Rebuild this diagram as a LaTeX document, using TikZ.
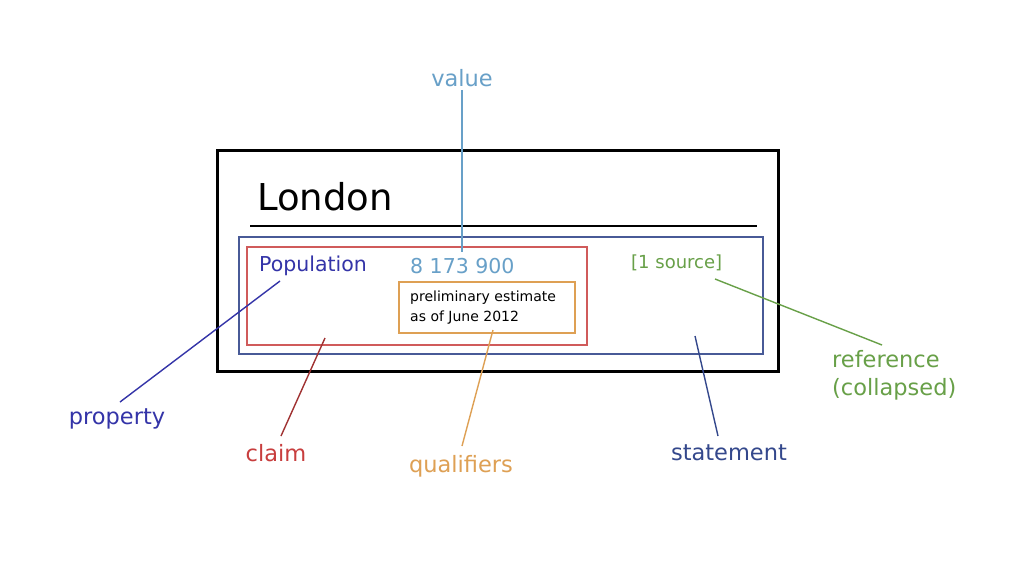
\documentclass[tikz,border=0pt]{standalone}
\usepackage{fontspec}
\setmainfont{DejaVu Sans}
\definecolor{cprop}{RGB}{52,52,168}
\definecolor{cval}{RGB}{104,160,200}
\definecolor{cclaim}{RGB}{200,62,62}
\definecolor{cqual}{RGB}{222,160,84}
\definecolor{cstat}{RGB}{52,72,140}
\definecolor{cref}{RGB}{104,160,72}
\begin{document}
\begin{tikzpicture}[x=1pt,y=-1pt,
  lbl/.style={inner sep=3pt,font=\fontsize{22.5}{27}\selectfont},
  ptr/.style={line width=1.4pt},
  box/.style={line width=2.1pt}]
\useasboundingbox[fill=white] (0,0) rectangle (1024,570);
% boxes
\draw[line width=3pt] (217,150) rectangle (778,371);
\node[anchor=base west,inner sep=0pt,font=\fontsize{37}{44}\selectfont] (london) at (257,210) {London};
\draw[line width=2.6pt] (250,226) -- (757,226);
\draw[box,cstat!90] (239,237) rectangle (763,354);
\draw[box,cclaim!85] (247,247) rectangle (587,345);
\node[draw=cqual,line width=2pt,minimum width=176pt,minimum height=51pt,inner sep=0pt] (qbox) at (487,307.5) {};
\node[anchor=west,align=left,inner sep=0pt,font=\fontsize{14}{20}\selectfont] (qtext) at (410,308) {preliminary estimate\\as of June 2012};
\node[anchor=west,inner sep=0pt,text=cprop,font=\fontsize{20.5}{24}\selectfont] (pop) at (259,266) {Population};
\node[anchor=west,inner sep=0pt,text=cval,font=\fontsize{20.5}{24}\selectfont] (num) at (410,266) {8 173 900};
\node[anchor=west,inner sep=0pt,text=cref,font=\fontsize{18}{22}\selectfont] (src) at (631,263) {[1 source]};
% labels
\node[lbl,text=cval] (value) at (462,78) {value};
\node[lbl,text=cprop] (property) at (117,419) {property};
\node[lbl,text=cclaim] (claim) at (276,453) {claim};
\node[lbl,text=cqual] (qualifiers) at (461,466) {qualifiers};
\node[lbl,text=cstat] (statement) at (729,453) {statement};
\node[lbl,anchor=west,align=left,text=cref,font=\fontsize{22.5}{28}\selectfont] (reference) at (829,375) {reference\\(collapsed)};
% pointer tips
\coordinate (valTip) at (462,252);
\coordinate (propTip) at (280,281);
\coordinate (claimTip) at (325,338);
\coordinate (qualTip) at (493,330);
\coordinate (statTip) at (695,336);
\coordinate (refTip) at (715,279);
\coordinate (propEnd) at (120,402);
\coordinate (claimEnd) at (281,436);
\coordinate (qualEnd) at (462,446);
\coordinate (statEnd) at (718,436);
\coordinate (refEnd) at (882,345);
% pointers
\draw[ptr,cval] (value.south) -- (valTip);
\draw[ptr,cprop] (propEnd) -- (propTip);
\draw[ptr,cclaim!80!black] (claimEnd) -- (claimTip);
\draw[ptr,cqual] (qualEnd) -- (qualTip);
\draw[ptr,cstat] (statEnd) -- (statTip);
\draw[ptr,cref] (refEnd) -- (refTip);
\end{tikzpicture}
\end{document}
